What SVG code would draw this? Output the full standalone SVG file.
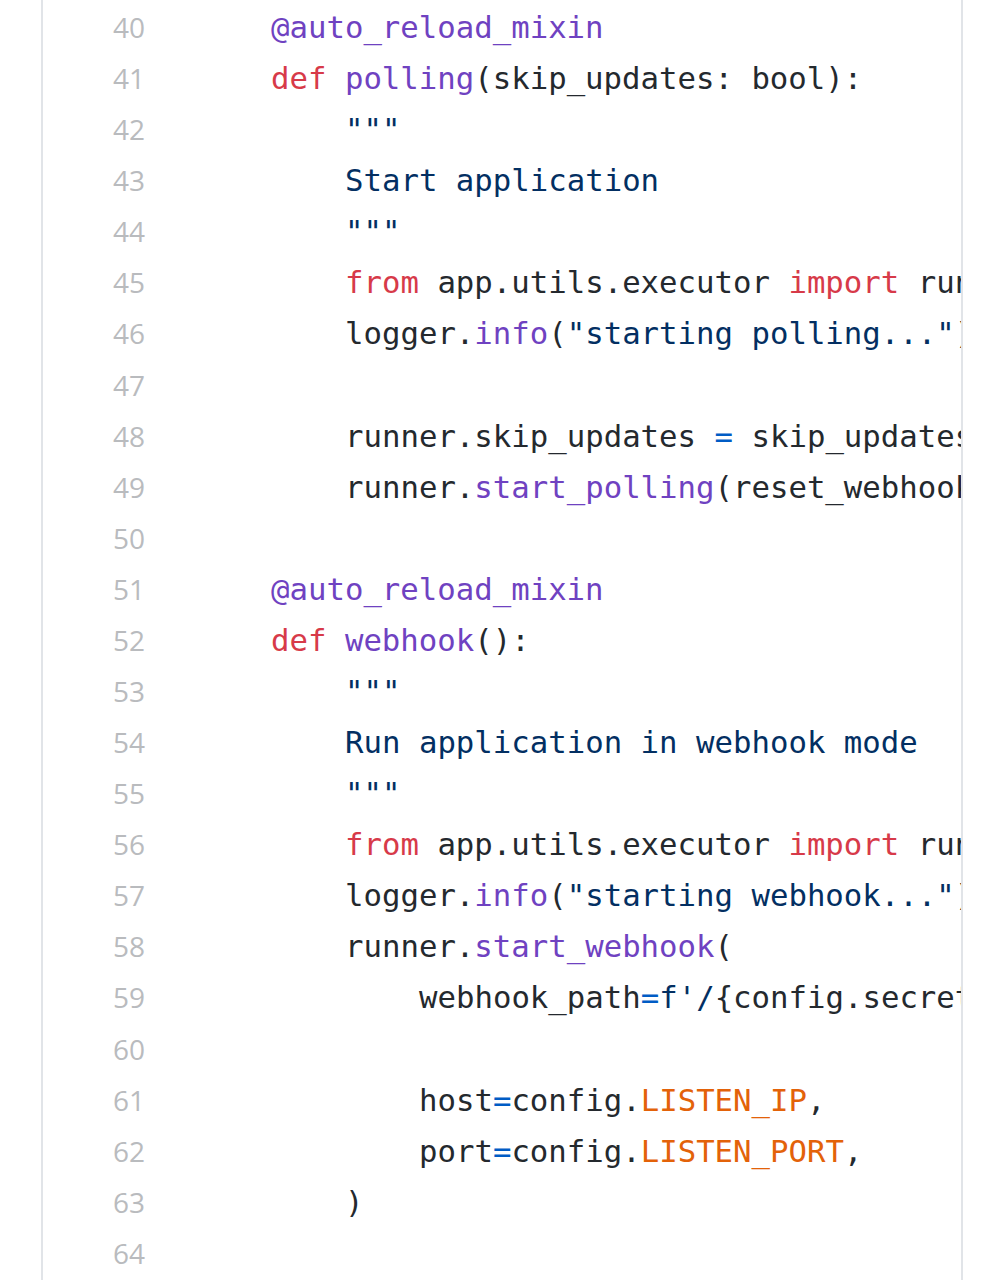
<svg xmlns="http://www.w3.org/2000/svg" width="1003" height="1280" viewBox="0 0 1003 1280">
<style>
.ln{font-family:"Open Sans","Noto Sans",sans-serif;font-size:28px;fill:#b9bbbe;text-anchor:end}
.c{font-family:"DejaVu Sans Mono","Liberation Mono",monospace;font-size:30.7px;fill:#24292e;white-space:pre}
.k{fill:#d73a49}.f{fill:#6f42c1}.s{fill:#032f62}.o{fill:#005cc5}.v{fill:#e36209}
</style>
<defs><clipPath id="clip"><rect x="0" y="0" width="961" height="1280"/></clipPath></defs>
<rect width="1003" height="1280" fill="#ffffff"/>
<line x1="42" y1="0" x2="42" y2="1280" stroke="#e1e4e8" stroke-width="2"/>
<line x1="962" y1="0" x2="962" y2="1280" stroke="#e1e4e8" stroke-width="2"/>
<g id="line-numbers">
<text class="ln" x="145" y="38">40</text>
<text class="ln" x="145" y="89">41</text>
<text class="ln" x="145" y="140">42</text>
<text class="ln" x="145" y="191">43</text>
<text class="ln" x="145" y="242">44</text>
<text class="ln" x="145" y="293">45</text>
<text class="ln" x="145" y="344">46</text>
<text class="ln" x="145" y="396">47</text>
<text class="ln" x="145" y="447">48</text>
<text class="ln" x="145" y="498">49</text>
<text class="ln" x="145" y="549">50</text>
<text class="ln" x="145" y="600">51</text>
<text class="ln" x="145" y="651">52</text>
<text class="ln" x="145" y="702">53</text>
<text class="ln" x="145" y="753">54</text>
<text class="ln" x="145" y="804">55</text>
<text class="ln" x="145" y="855">56</text>
<text class="ln" x="145" y="906">57</text>
<text class="ln" x="145" y="957">58</text>
<text class="ln" x="145" y="1008">59</text>
<text class="ln" x="145" y="1060">60</text>
<text class="ln" x="145" y="1111">61</text>
<text class="ln" x="145" y="1162">62</text>
<text class="ln" x="145" y="1213">63</text>
<text class="ln" x="145" y="1264">64</text>
</g>
<g id="code" clip-path="url(#clip)">
<text class="c f" x="271" y="38">@auto_reload_mixin</text>
<text class="c" x="271" y="89"><tspan class="k">def</tspan> <tspan class="f">polling</tspan>(skip_updates: bool):</text>
<text class="c s" x="345" y="140">"""</text>
<text class="c s" x="345" y="191">Start application</text>
<text class="c s" x="345" y="242">"""</text>
<text class="c" x="345" y="293"><tspan class="k">from</tspan> app.utils.executor <tspan class="k">import</tspan> run</text>
<text class="c" x="345" y="344">logger.<tspan class="f">info</tspan>(<tspan class="s">"starting polling..."</tspan>)</text>
<text class="c" x="345" y="447">runner.skip_updates <tspan class="o">=</tspan> skip_updates</text>
<text class="c" x="345" y="498">runner.<tspan class="f">start_polling</tspan>(reset_webhook</text>
<text class="c f" x="271" y="600">@auto_reload_mixin</text>
<text class="c" x="271" y="651"><tspan class="k">def</tspan> <tspan class="f">webhook</tspan>():</text>
<text class="c s" x="345" y="702">"""</text>
<text class="c s" x="345" y="753">Run application in webhook mode</text>
<text class="c s" x="345" y="804">"""</text>
<text class="c" x="345" y="855"><tspan class="k">from</tspan> app.utils.executor <tspan class="k">import</tspan> run</text>
<text class="c" x="345" y="906">logger.<tspan class="f">info</tspan>(<tspan class="s">"starting webhook..."</tspan>)</text>
<text class="c" x="345" y="957">runner.<tspan class="f">start_webhook</tspan>(</text>
<text class="c" x="419" y="1008">webhook_path<tspan class="o">=</tspan><tspan class="s">f'/</tspan>{config.secret</text>
<text class="c" x="419" y="1111">host<tspan class="o">=</tspan>config.<tspan class="v">LISTEN_IP</tspan>,</text>
<text class="c" x="419" y="1162">port<tspan class="o">=</tspan>config.<tspan class="v">LISTEN_PORT</tspan>,</text>
<text class="c" x="345" y="1213">)</text>
</g>
</svg>
